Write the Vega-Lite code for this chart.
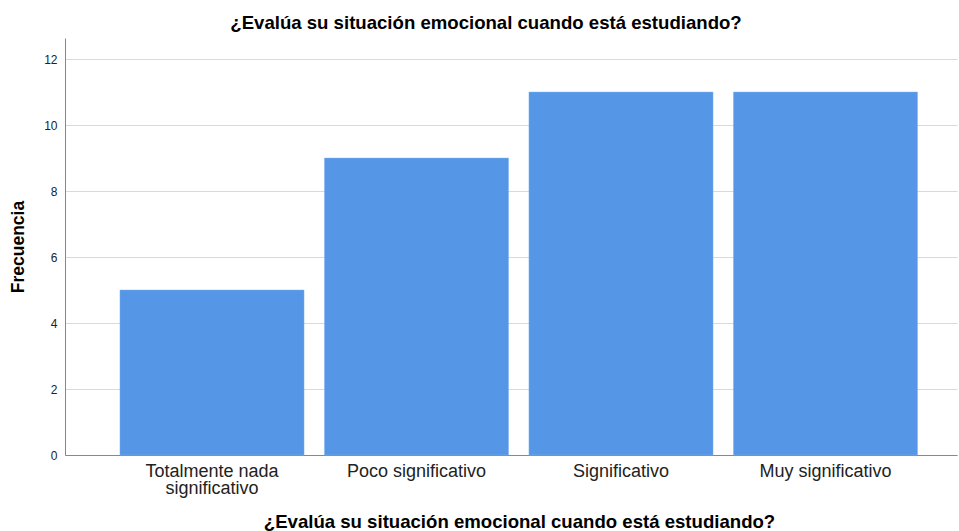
{
  "$schema": "https://vega.github.io/schema/vega-lite/v6.json",
  "autosize": "none",
  "width": 892,
  "height": 417,
  "padding": {"left": 65, "top": 38, "right": 2, "bottom": 76},
  "background": "white",
  "title": {
    "text": "¿Evalúa su situación emocional cuando está estudiando?",
    "font": "Liberation Sans",
    "fontSize": 18.6,
    "fontWeight": "bold",
    "color": "#000000",
    "offset": 5,
    "anchor": "middle",
    "dx": -25
  },
  "data": {
    "values": [
      {"categoria": "Totalmente nada significativo", "frecuencia": 5},
      {"categoria": "Poco significativo", "frecuencia": 9},
      {"categoria": "Significativo", "frecuencia": 11},
      {"categoria": "Muy significativo", "frecuencia": 11}
    ]
  },
  "mark": {"type": "bar", "color": "#5596e6", "stroke": "#7fb0ee", "strokeWidth": 0.5},
  "encoding": {
    "x": {
      "field": "categoria",
      "type": "nominal",
      "sort": null,
      "scale": {"paddingInner": 0.1, "paddingOuter": 0.231, "align": 0.582},
      "axis": {
        "title": "¿Evalúa su situación emocional cuando está estudiando?",
        "labelAngle": 0,
        "labelFont": "Liberation Sans",
        "labelFontSize": 18,
        "labelColor": "#222222",
        "labelPadding": 7,
        "labelLineHeight": 17,
        "labelExpr": "datum.label == 'Totalmente nada significativo' ? ['Totalmente nada', 'significativo'] : datum.label",
        "ticks": false,
        "domainColor": "#888888",
        "titleFont": "Liberation Sans",
        "titleFontSize": 18.6,
        "titleFontWeight": "bold",
        "titleColor": "#000000",
        "titlePadding": 15,
        "titleX": 454,
        "titleAlign": "center"
      }
    },
    "y": {
      "field": "frecuencia",
      "type": "quantitative",
      "scale": {"domain": [0, 12.64], "nice": false},
      "axis": {
        "title": "Frecuencia",
        "values": [0, 2, 4, 6, 8, 10, 12],
        "grid": true,
        "gridColor": "#d9d9d9",
        "ticks": false,
        "domainColor": "#888888",
        "labelFont": "Liberation Sans",
        "labelFontSize": 12,
        "labelColor": "#222222",
        "labelPadding": 8,
        "titleFont": "Liberation Sans",
        "titleFontSize": 17.5,
        "titleFontWeight": "bold",
        "titleColor": "#000000",
        "titlePadding": 16
      }
    }
  },
  "config": {"view": {"stroke": null}}
}
